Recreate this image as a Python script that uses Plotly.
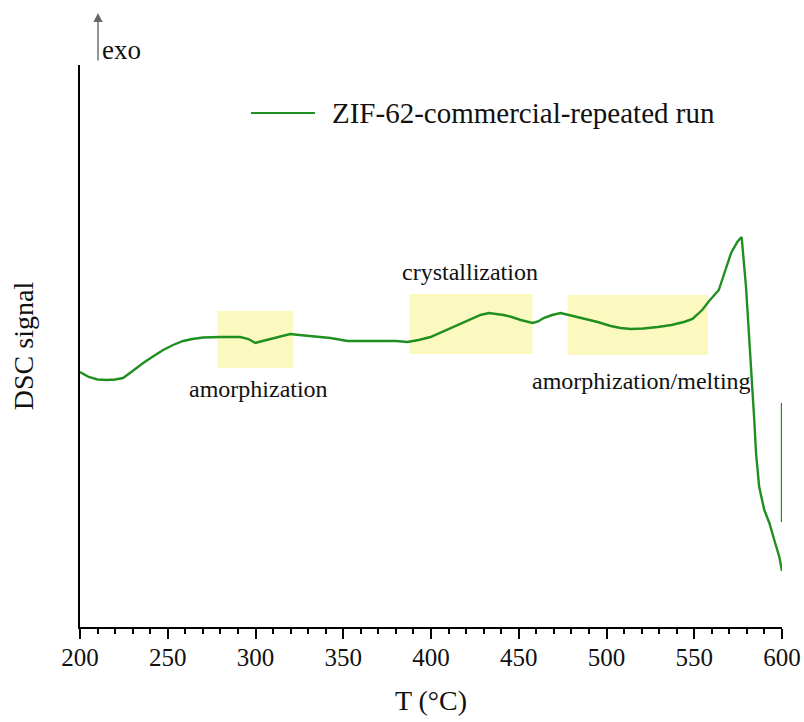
import plotly.graph_objects as go

# DSC trace, heating run of ZIF-62 (signal in arbitrary units, exo up)
series_name = "ZIF-62-commercial-repeated run"
temperature = [
    200, 205, 210, 215.4, 220, 224.5, 230, 236, 242, 247.4, 253, 258.8, 264, 270.2,
    280, 291.3, 296, 299.9, 304, 308.4, 314, 319.8, 325, 331.2, 342.7, 352.4, 362,
    371.2, 380, 386.6, 393, 399.7, 407, 415.1, 422, 428.2, 433, 441.4, 446, 451.1,
    457.9, 461, 464.2, 469, 473.9, 480, 487, 495, 502.4, 508, 513.8, 521, 529.2, 537,
    544.1, 549, 552.1, 555, 558, 561, 564, 567, 571, 574.7, 577, 579.5,
    581.9, 583.3, 584.2, 585.2, 587, 589.9, 592.8, 595.6, 598.5, 600,
    None, 600, 600,
]
signal = [
    2.55, 2.50, 2.475, 2.47, 2.475, 2.49, 2.56, 2.64, 2.71, 2.77, 2.82, 2.86, 2.88, 2.895,
    2.90, 2.90, 2.88, 2.84, 2.86, 2.88, 2.91, 2.93, 2.92, 2.91, 2.89, 2.86, 2.86,
    2.865, 2.86, 2.85, 2.87, 2.90, 2.955, 3.02, 3.075, 3.12, 3.14, 3.12, 3.10, 3.07,
    3.04, 3.055, 3.09, 3.12, 3.14, 3.115, 3.09, 3.05, 3.01, 2.99, 2.98, 2.985, 3.00, 3.02,
    3.05, 3.08, 3.13, 3.18, 3.25, 3.31, 3.37, 3.53, 3.74, 3.855, 3.90, 3.40,
    2.74, 2.40, 2.07, 1.74, 1.40, 1.17, 1.04, 0.87, 0.70, 0.56,
    None, 2.24, 1.05,
]

# Highlighted temperature windows and their captions
region_start = [278.2, 387.7, 477.9]
region_end = [321.5, 457.9, 557.8]
region_low = [2.59, 2.73, 2.72]
region_high = [3.16, 3.33, 3.32]
region_labels = ["amorphization", "crystallization", "amorphization/melting"]
label_temp = [301.6, 422.0, 520.0]
label_signal = [2.38, 3.55, 2.46]

x_ticks = [200, 250, 300, 350, 400, 450, 500, 550, 600]

FONT = "Liberation Serif"
LINE_GREEN = "#1f8f1f"

L, R, T, B = 80, 22, 65, 95
W, H = 804, 722
plot_w = W - L - R
plot_h = H - T - B


def px_x(px):
    return (px - L) / plot_w


def px_y(py):
    return 1 - (py - T) / plot_h


fig = go.Figure()
fig.add_trace(go.Scatter(
    x=temperature, y=signal, mode="lines", name=series_name,
    line=dict(color=LINE_GREEN, width=2.4), connectgaps=False, showlegend=False,
))

for x0, x1, y0, y1 in zip(region_start, region_end, region_low, region_high):
    fig.add_shape(type="rect", xref="x", yref="y", x0=x0, x1=x1, y0=y0, y1=y1,
                  fillcolor="#fcf9c0", line=dict(width=0), layer="below")

for text, tx, ty in zip(region_labels, label_temp, label_signal):
    fig.add_annotation(x=tx, y=ty, xref="x", yref="y", text=text, showarrow=False,
                       font=dict(family=FONT, size=24, color="#111"))

# legend entry drawn in paper space
fig.add_shape(type="line", xref="paper", yref="paper",
              x0=px_x(251), x1=px_x(315), y0=px_y(113), y1=px_y(113),
              line=dict(color=LINE_GREEN, width=2))
fig.add_annotation(xref="paper", yref="paper", x=px_x(330), y=px_y(113),
                   xanchor="left", yanchor="middle", text=series_name, showarrow=False,
                   font=dict(family=FONT, size=29, color="#111"))

# exothermic direction marker
fig.add_annotation(xref="paper", yref="paper", x=px_x(98), y=px_y(13),
                   ax=0, ay=49, axref="pixel", ayref="pixel", text="", showarrow=True,
                   arrowhead=2, arrowsize=1.3, arrowwidth=1.4, arrowcolor="#666")
fig.add_annotation(xref="paper", yref="paper", x=px_x(100), y=px_y(50),
                   xanchor="left", yanchor="middle", text="exo", showarrow=False,
                   font=dict(family=FONT, size=27, color="#111"))

fig.update_layout(
    width=W, height=H,
    margin=dict(l=L, r=R, t=T, b=B),
    paper_bgcolor="white", plot_bgcolor="white",
    font=dict(family=FONT, color="#111"),
    xaxis=dict(
        range=[200, 600], tickvals=x_ticks, ticktext=[str(v) for v in x_ticks],
        automargin=False,
        showgrid=False, zeroline=False, showline=True, linecolor="black", linewidth=2,
        ticks="outside", ticklen=10, tickwidth=2, tickcolor="black",
        minor=dict(dtick=10, ticks="outside", ticklen=5, tickwidth=1.5, tickcolor="black"),
        tickfont=dict(family=FONT, size=25, color="#111"),
        ticklabelstandoff=-3,
        title=dict(text="T (°C)", font=dict(family=FONT, size=28, color="#111"), standoff=20),
    ),
    yaxis=dict(
        range=[0, 5.62], automargin=False,
        showgrid=False, zeroline=False, showline=True,
        linecolor="black", linewidth=2, showticklabels=False, ticks="",
        title=dict(text="DSC signal", font=dict(family=FONT, size=28, color="#111"), standoff=36),
    ),
)

fig.write_html("out.html")
